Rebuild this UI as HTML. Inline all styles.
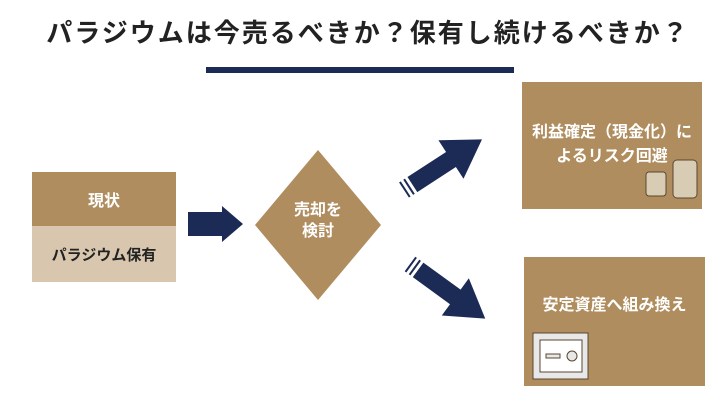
<!DOCTYPE html>
<html><head><meta charset="utf-8"><style>
body{margin:0;width:720px;height:405px;background:#fff;position:relative;overflow:hidden;font-family:"Liberation Sans","Noto Sans CJK JP",sans-serif;font-weight:bold}
.a{position:absolute}
.t{left:8px;width:720px;top:13px;text-align:center;font-size:26px;color:#222;letter-spacing:2px}
.c{display:flex;align-items:center;justify-content:center;text-align:center;color:#fff}
</style></head><body>
<div class="a t">パラジウムは今売るべきか？保有し続けるべきか？</div>
<div class="a" style="left:206px;top:67px;width:308px;height:6px;background:#1c2a56"></div>
<div class="a c" style="left:32px;top:172px;width:144px;height:54px;background:#b08d5f;font-size:16px">現状</div>
<div class="a c" style="left:32px;top:226px;width:144px;height:56px;background:#d8c7ae;color:#222;font-size:15px">パラジウム保有</div>
<svg class="a" style="left:0;top:0" width="720" height="405">
<polygon points="188,212 222,212 222,206 243,224 222,242 222,236 188,236" fill="#1c2a56"/>
<polygon points="318,150 381,225 318,300 255,225" fill="#b08d5f"/>
<g transform="translate(404,190) rotate(-33)">
<polygon points="10,-9 56,-9 56,-23 93,0 56,23 56,9 10,9" fill="#1c2a56"/>
<rect x="0" y="-9" width="2" height="18" fill="#1c2a56"/><rect x="5" y="-9" width="2" height="18" fill="#1c2a56"/>
</g>
<g transform="translate(410,264) rotate(36)">
<polygon points="10,-9 56,-9 56,-23 93,0 56,23 56,9 10,9" fill="#1c2a56"/>
<rect x="0" y="-9" width="2" height="18" fill="#1c2a56"/><rect x="5" y="-9" width="2" height="18" fill="#1c2a56"/>
</g>
<rect x="522" y="82" width="180" height="127" fill="#b08d5f"/>
<rect x="524" y="257" width="181" height="129" fill="#b08d5f"/>
<g fill="#d9ccb4" stroke="#5a4630" stroke-width="1">
<rect x="646" y="172" width="20" height="24" rx="3"/><rect x="673" y="160" width="24" height="38" rx="4"/>
</g>
<g fill="#e8e8e8" stroke="#5a4630" stroke-width="1">
<rect x="533" y="333" width="55" height="46"/><rect x="540" y="340" width="42" height="32" fill="#fff"/>
<circle cx="572" cy="356" r="5"/><rect x="546" y="354" width="14" height="4"/>
</g>
</svg>
<div class="a c" style="left:255px;top:200px;width:126px;font-size:16px;line-height:21px">売却を<br>検討</div>
<div class="a c" style="left:522px;top:121px;width:180px;font-size:16px;line-height:24px">利益確定（現金化）に<br>よるリスク回避</div>
<div class="a c" style="left:524px;top:291px;width:181px;font-size:16px">安定資産へ組み換え</div>
</body></html>
